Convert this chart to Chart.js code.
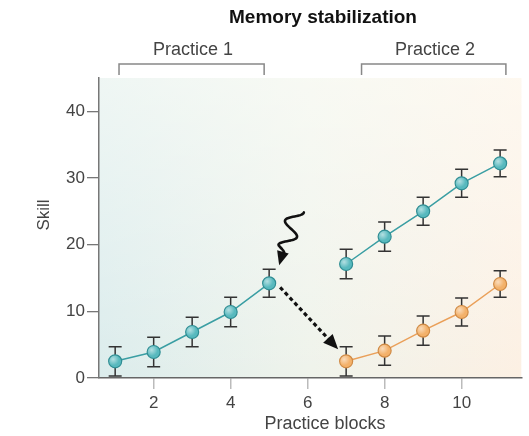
<!DOCTYPE html>
<html>
<head>
<meta charset="utf-8">
<script src="https://cdn.jsdelivr.net/npm/chart.js@4/dist/chart.umd.min.js"></script>
<style>
  html, body { margin: 0; padding: 0; background: #fff; }
  #wrap { width: 529px; height: 436px; }
</style>
</head>
<body>
<div id="wrap"><canvas id="skillChart" width="529" height="436"></canvas></div>
<script>
// values
const blocks1 = [1, 2, 3, 4, 5];
const blocks2 = [7, 8, 9, 10, 11];
const practice1Skill = [2.5, 3.9, 6.9, 9.9, 14.2];
const practice1Err = [2.2, 2.2, 2.2, 2.2, 2.1];
const practice2Skill = [17.1, 21.2, 25.0, 29.2, 32.2];
const practice2Err = [2.2, 2.2, 2.1, 2.1, 2.0];
const disruptedSkill = [2.5, 4.1, 7.1, 9.9, 14.1];
const disruptedErr = [2.2, 2.2, 2.2, 2.1, 2.0];
const xTicks = [2, 4, 6, 8, 10];
const yTicks = [0, 10, 20, 30, 40];

const teal = "#58b9be";
const tealDark = "#2f8d93";
const orange = "#f3b16a";
const orangeDark = "#cf8a45";
const FONT = "'Liberation Sans', Arial, sans-serif";

function pts(xs, ys) {
  return xs.map((x, i) => ({ x: x, y: ys[i] }));
}

const errLists = [practice1Err, practice2Err, disruptedErr];

// background panel gradient
const panelPlugin = {
  id: "panel",
  beforeDraw(chart) {
    const { ctx, chartArea: a } = chart;
    ctx.save();
    const g = ctx.createLinearGradient(a.left, 0, a.right, 0);
    g.addColorStop(0, "#dbecec");
    g.addColorStop(0.5, "#eff3eb");
    g.addColorStop(1, "#fcf0e3");
    ctx.fillStyle = g;
    ctx.fillRect(a.left, a.top, a.right - a.left, a.bottom - a.top);
    const v = ctx.createLinearGradient(0, a.top, 0, a.bottom);
    v.addColorStop(0, "rgba(255,255,250,0.55)");
    v.addColorStop(1, "rgba(255,255,255,0)");
    ctx.fillStyle = v;
    ctx.fillRect(a.left, a.top, a.right - a.left, a.bottom - a.top);
    ctx.restore();
  }
};

// error bars behind the markers, shine on top of them
const errorBars = {
  id: "errorBars",
  beforeDatasetsDraw(chart) {
    const { ctx, scales } = chart;
    ctx.save();
    ctx.strokeStyle = "#333";
    ctx.lineWidth = 1.5;
    chart.data.datasets.forEach((ds, di) => {
      ds.data.forEach((p, i) => {
        const e = errLists[di][i];
        const x = scales.x.getPixelForValue(p.x);
        const y1 = scales.y.getPixelForValue(p.y + e);
        const y2 = scales.y.getPixelForValue(Math.max(0, p.y - e));
        ctx.beginPath();
        ctx.moveTo(x, y1); ctx.lineTo(x, y2);
        ctx.moveTo(x - 6.5, y1); ctx.lineTo(x + 6.5, y1);
        ctx.moveTo(x - 6.5, y2); ctx.lineTo(x + 6.5, y2);
        ctx.stroke();
      });
    });
    ctx.restore();
  },
  afterDatasetsDraw(chart) {
    const { ctx } = chart;
    ctx.save();
    chart.data.datasets.forEach((ds, di) => {
      chart.getDatasetMeta(di).data.forEach(el => {
        const g = ctx.createRadialGradient(el.x - 2, el.y - 2, 0, el.x - 2, el.y - 2, 6);
        g.addColorStop(0, "rgba(255,255,255,0.55)");
        g.addColorStop(1, "rgba(255,255,255,0)");
        ctx.fillStyle = g;
        ctx.beginPath();
        ctx.arc(el.x, el.y, 6, 0, Math.PI * 2);
        ctx.fill();
      });
    });
    ctx.restore();
  }
};

function arrowHead(ctx, x, y, ang, len, wid) {
  ctx.beginPath();
  ctx.moveTo(x, y);
  ctx.lineTo(x - len * Math.cos(ang) + wid * Math.sin(ang), y - len * Math.sin(ang) - wid * Math.cos(ang));
  ctx.lineTo(x - len * Math.cos(ang) - wid * Math.sin(ang), y - len * Math.sin(ang) + wid * Math.cos(ang));
  ctx.closePath();
  ctx.fill();
}

// titles, brackets and arrows
const annotations = {
  id: "annotations",
  afterDraw(chart) {
    const { ctx, scales } = chart;
    const sx = v => scales.x.getPixelForValue(v);
    const sy = v => scales.y.getPixelForValue(v);
    ctx.save();
    ctx.textAlign = "center";
    ctx.textBaseline = "middle";

    ctx.fillStyle = "#111";
    ctx.font = "bold 19px " + FONT;
    ctx.fillText("Memory stabilization", 323, 18);

    ctx.fillStyle = "#444";
    ctx.font = "18px " + FONT;
    ctx.fillText("Practice 1", 193, 50);
    ctx.fillText("Practice 2", 435, 50);

    ctx.strokeStyle = "#888";
    ctx.lineWidth = 1.5;
    [[1.1, 4.87], [7.4, 11.15]].forEach(([l, r]) => {
      ctx.beginPath();
      ctx.moveTo(sx(l), 75); ctx.lineTo(sx(l), 64);
      ctx.lineTo(sx(r), 64); ctx.lineTo(sx(r), 75);
      ctx.stroke();
    });

    // axis titles
    ctx.fillStyle = "#444";
    ctx.font = "18px " + FONT;
    ctx.fillText("Practice blocks", 325, 424);
    ctx.save();
    ctx.translate(44, 215);
    ctx.rotate(-Math.PI / 2);
    ctx.font = "17px " + FONT;
    ctx.fillText("Skill", 0, 0);
    ctx.restore();

    // wavy arrow onto block 5
    const px = sx(5), py = sy(practice1Skill[4]);
    const x0 = px + 27, y0 = py - 73;
    const x1 = px + 15, y1 = py - 30;
    const dx = x1 - x0, dy = y1 - y0, L = Math.hypot(dx, dy);
    const nx = -dy / L, ny = dx / L;
    ctx.strokeStyle = "#111";
    ctx.fillStyle = "#111";
    ctx.lineWidth = 2.6;
    ctx.lineJoin = "round";
    ctx.lineCap = "round";
    ctx.beginPath();
    for (let t = 0; t <= 1.0001; t += 0.02) {
      const w = -8 * Math.cos(t * Math.PI * 3.5) * (t < 0.85 ? 1 : Math.max(0, (1 - t) / 0.15));
      const x = x0 + dx * t + nx * w, y = y0 + dy * t + ny * w;
      if (t === 0) ctx.moveTo(x, y); else ctx.lineTo(x, y);
    }
    ctx.stroke();
    const ang = Math.atan2(dy, dx);
    arrowHead(ctx, px + 10, py - 18, ang, 14, 6);

    // dashed arrow from block 5 to block 7
    const qx = sx(7), qy = sy(disruptedSkill[0]);
    const sx0 = px + 11, sy0 = py + 4;
    const tx = qx - 8, ty = qy - 12;
    const a2 = Math.atan2(ty - sy0, tx - sx0);
    ctx.lineCap = "butt";
    ctx.setLineDash([4, 3]);
    ctx.lineWidth = 3.2;
    ctx.beginPath();
    ctx.moveTo(sx0, sy0);
    ctx.lineTo(tx - 13 * Math.cos(a2), ty - 13 * Math.sin(a2));
    ctx.stroke();
    ctx.setLineDash([]);
    arrowHead(ctx, tx, ty, a2, 15, 6.5);
    ctx.restore();
  }
};

new Chart(document.getElementById("skillChart"), {
  type: "line",
  data: {
    datasets: [
      {
        label: "Practice 1",
        data: pts(blocks1, practice1Skill),
        borderColor: "#3a9ea3",
        borderWidth: 1.5,
        pointBackgroundColor: teal,
        pointBorderColor: tealDark,
        pointBorderWidth: 1.2,
        pointRadius: 6.5,
        tension: 0,
      },
      {
        label: "Practice 2",
        data: pts(blocks2, practice2Skill),
        borderColor: "#3a9ea3",
        borderWidth: 1.5,
        pointBackgroundColor: teal,
        pointBorderColor: tealDark,
        pointBorderWidth: 1.2,
        pointRadius: 6.5,
        tension: 0,
      },
      {
        label: "Practice 2 (disrupted)",
        data: pts(blocks2, disruptedSkill),
        borderColor: "#eaa05a",
        borderWidth: 1.5,
        pointBackgroundColor: orange,
        pointBorderColor: orangeDark,
        pointBorderWidth: 1.2,
        pointRadius: 6.5,
        tension: 0,
      },
    ],
  },
  options: {
    responsive: false,
    animation: false,
    layout: { padding: { top: 78, right: 4, left: 0, bottom: 0 } },
    plugins: {
      legend: { display: false },
      tooltip: { enabled: false },
      title: { display: false },
    },
    scales: {
      x: {
        type: "linear",
        min: 0.58,
        max: 11.55,
        afterBuildTicks: s => { s.ticks = xTicks.map(v => ({ value: v })); },
        afterFit: s => { s.height = 58; },
        grid: { drawOnChartArea: false, drawTicks: true, tickLength: 11, color: "#bbb", lineWidth: 1.5 },
        border: { display: true, color: "#666", width: 1.5 },
        ticks: { color: "#444", font: { family: FONT, size: 17 }, padding: 4, maxRotation: 0 },
      },
      y: {
        min: 0,
        max: 45,
        afterBuildTicks: s => { s.ticks = yTicks.map(v => ({ value: v })); },
        afterFit: s => { s.width = 99; },
        grid: { drawOnChartArea: false, drawTicks: true, tickLength: 12, color: "#777", lineWidth: 1.3 },
        border: { display: true, color: "#777", width: 1.5 },
        ticks: { color: "#444", font: { family: FONT, size: 17 }, padding: 2 },
      },
    },
  },
  plugins: [panelPlugin, errorBars, annotations],
});
</script>
</body>
</html>
